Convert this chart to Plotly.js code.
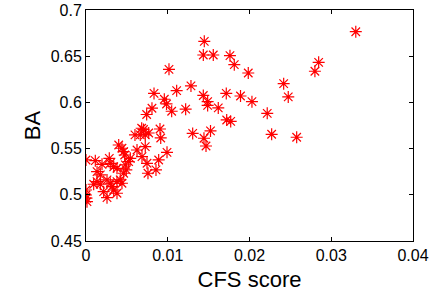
<!DOCTYPE html>
<html>
<head>
<meta charset="utf-8">
<script src="https://cdn.plot.ly/plotly-3.0.1.min.js"></script>
<style>html,body{margin:0;padding:0;background:#fff;}#chart{width:443px;height:301px;}</style>
</head>
<body>
<div id="chart"></div>
<script>
const cfsScore = [
  0.0330, 0.02846, 0.0280, 0.02418, 0.02474, 0.02217, 0.02271, 0.02577,
  0.01447, 0.01435, 0.01557, 0.01761, 0.01814, 0.01985, 0.01015, 0.01284,
  0.01109, 0.00832, 0.00958, 0.00985, 0.01048, 0.00807, 0.00742, 0.01219,
  0.01435, 0.01488, 0.01488, 0.01618, 0.01716, 0.01890, 0.0203, 0.01721,
  0.0177, 0.01305, 0.01523, 0.01443, 0.01468, 0.00905, 0.00914, 0.00599,
  0.00664, 0.00703, 0.00725, 0.00767, 0.00681, 0.00991, 0.00624, 0.00725,
  0.00685, 0.00542, 0.00522, 0.00746, 0.00889, 0.00856, 0.00758, 0.0040,
  0.0044, 0.00461, 0.00473, 0.00481, 0.00493, 0.00461, 0.0, 0.00114,
  0.00196, 0.00285, 0.00297, 0.00339, 0.00379, 0.00135, 0.00175, 0.00135,
  0.00094, 0.00175, 0.00257, 0.00297, 0.00318, 0.00339, 0.00379, 0.00419,
  0.0044, 0.00216, 0.00257, 0.00379, 0.0, 0.0, 0.00006, 0.00012
];
const baValue = [
  0.6765, 0.6434, 0.6337, 0.6203, 0.6059, 0.5882, 0.5655, 0.5623,
  0.6661, 0.6513, 0.6513, 0.6506, 0.6408, 0.6318, 0.6358, 0.6178,
  0.6127, 0.6097, 0.6034, 0.5983, 0.5904, 0.5937, 0.5869, 0.5927,
  0.6075, 0.6008, 0.5967, 0.5940, 0.6097, 0.6069, 0.6008, 0.5810,
  0.5794, 0.5664, 0.5691, 0.5612, 0.5528, 0.5712, 0.5615, 0.5648,
  0.5648, 0.5707, 0.5648, 0.5669, 0.5720, 0.5460, 0.5485, 0.5521,
  0.5413, 0.5395, 0.5359, 0.5341, 0.5377, 0.5269, 0.5233, 0.5539,
  0.5504, 0.5467, 0.5431, 0.5323, 0.5269, 0.5233, 0.5377, 0.5369,
  0.5330, 0.5395, 0.5341, 0.5304, 0.5287, 0.5250, 0.5215, 0.5142,
  0.5114, 0.5114, 0.5161, 0.5125, 0.5088, 0.5052, 0.5142, 0.5161,
  0.5125, 0.5034, 0.4969, 0.5017, 0.5052, 0.4998, 0.4963, 0.4926
];
const xTicks = [0, 0.01, 0.02, 0.03, 0.04];
const xTickText = ['0', '0.01', '0.02', '0.03', '0.04'];
const yTicks = [0.45, 0.5, 0.55, 0.6, 0.65, 0.7];
const yTickText = ['0.45', '0.5', '0.55', '0.6', '0.65', '0.7'];

const font = 'Liberation Sans, Arial, Helvetica, sans-serif';
const trace = {
  x: cfsScore, y: baValue, type: 'scatter', mode: 'markers',
  marker: {symbol: 'asterisk-open', size: 10, color: '#ff0000', line: {color: '#ff0000', width: 1.2}},
  hoverinfo: 'none'
};
const axisCommon = {
  showgrid: false, zeroline: false, showline: true, linecolor: '#000', linewidth: 1,
  mirror: 'ticks', ticks: 'inside', ticklen: 4, tickcolor: '#000', tickwidth: 1,
  tickfont: {family: font, size: 16, color: '#000'}, automargin: false, fixedrange: true
};
const layout = {
  width: 443, height: 301,
  margin: {l: 86, r: 30, t: 10, b: 60},
  paper_bgcolor: '#fff', plot_bgcolor: '#fff',
  showlegend: false,
  xaxis: Object.assign({}, axisCommon, {
    range: [0, 0.04], tickvals: xTicks, ticktext: xTickText,
    title: {text: 'CFS score', font: {family: font, size: 22, color: '#000'}, standoff: 8}
  }),
  yaxis: Object.assign({}, axisCommon, {
    range: [0.45, 0.7], tickvals: yTicks, ticktext: yTickText,
    title: {text: 'BA', font: {family: font, size: 22, color: '#000'}, standoff: 3}
  })
};
Plotly.newPlot('chart', [trace], layout, {staticPlot: true, displayModeBar: false});
</script>
</body>
</html>
